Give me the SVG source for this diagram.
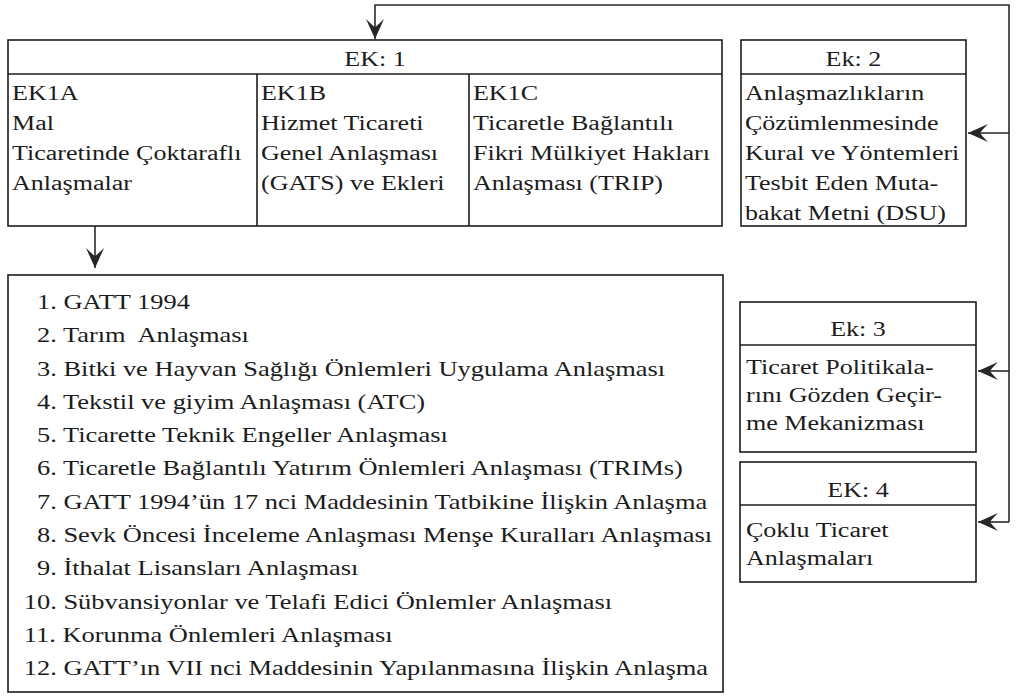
<svg xmlns="http://www.w3.org/2000/svg" width="1016" height="697" viewBox="0 0 1016 697">
<style>
.box{fill:none;stroke:#1c1c1c;stroke-width:1.6}
.ln{stroke:#1c1c1c;stroke-width:1.6;fill:none}
.con{stroke:#2a2a2a;stroke-width:1.6;fill:none}
.t{font-family:"Liberation Serif","Times New Roman",serif;font-size:20.5px;fill:#1c1c1c}
.c{text-anchor:middle}
.pre{white-space:pre}
</style>
<defs>
<marker id="ah" markerUnits="userSpaceOnUse" markerWidth="24" markerHeight="24" viewBox="-22 -11 24 22" refX="0" refY="0" orient="auto">
<path d="M0,0 L-20,-9 Q-13,-2 -12,0 Q-13,2 -20,9 Z" fill="#262626"/>
</marker>
</defs>
<rect width="1016" height="697" fill="#fff"/>
<g id="connectors">
<path class="con" d="M1009,522 V5 H375 V39" marker-end="url(#ah)"/>
<path class="con" d="M1009,133 H968" marker-end="url(#ah)"/>
<path class="con" d="M1009,371 H978" marker-end="url(#ah)"/>
<path class="con" d="M1009,522 H978" marker-end="url(#ah)"/>
<path class="con" d="M95,226 V268" marker-end="url(#ah)"/>
</g>
<g id="ek1">
<rect class="box" x="8" y="40" width="714" height="186"/>
<path class="ln" d="M8,74 H722 M257,74 V226 M469,74 V226"/>
<g transform="scale(1.27 1)">
<text class="t c" x="295.3" y="66">EK: 1</text>
<text class="t" x="9.45" y="100">EK1A</text>
<text class="t" x="9.45" y="130">Mal</text>
<text class="t" x="9.45" y="160">Ticaretinde Çoktaraflı</text>
<text class="t" x="9.45" y="190">Anlaşmalar</text>
<text class="t" x="205.5" y="100">EK1B</text>
<text class="t" x="205.5" y="130">Hizmet Ticareti</text>
<text class="t" x="205.5" y="160">Genel Anlaşması</text>
<text class="t" x="205.5" y="190">(GATS) ve Ekleri</text>
<text class="t" x="372.4" y="100">EK1C</text>
<text class="t" x="372.4" y="130">Ticaretle Bağlantılı</text>
<text class="t" x="372.4" y="160">Fikri Mülkiyet Hakları</text>
<text class="t" x="372.4" y="190">Anlaşması (TRIP)</text>
</g>
</g>
<g id="ek2">
<rect class="box" x="741" y="40" width="225" height="186"/>
<path class="ln" d="M741,74 H966"/>
<g transform="scale(1.27 1)">
<text class="t c" x="672" y="66">Ek: 2</text>
<text class="t" x="586.6" y="100">Anlaşmazlıkların</text>
<text class="t" x="586.6" y="130">Çözümlenmesinde</text>
<text class="t" x="586.6" y="160">Kural ve Yöntemleri</text>
<text class="t" x="586.6" y="190">Tesbit Eden Muta-</text>
<text class="t" x="586.6" y="220">bakat Metni (DSU)</text>
</g>
</g>
<g id="list">
<rect class="box" x="8" y="275" width="715" height="417"/>
<g transform="scale(1.29 1)">
<text class="t" x="28.68" y="309">1. GATT 1994</text>
<text class="t pre" x="28.68" y="342.3">2. Tarım  Anlaşması</text>
<text class="t" x="28.68" y="375.6">3. Bitki ve Hayvan Sağlığı Önlemleri Uygulama Anlaşması</text>
<text class="t" x="28.68" y="408.9">4. Tekstil ve giyim Anlaşması (ATC)</text>
<text class="t" x="28.68" y="442.2">5. Ticarette Teknik Engeller Anlaşması</text>
<text class="t" x="28.68" y="475.5">6. Ticaretle Bağlantılı Yatırım Önlemleri Anlaşması (TRIMs)</text>
<text class="t" x="28.68" y="508.8">7. GATT 1994’ün 17 nci Maddesinin Tatbikine İlişkin Anlaşma</text>
<text class="t" x="28.68" y="542.1">8. Sevk Öncesi İnceleme Anlaşması Menşe Kuralları Anlaşması</text>
<text class="t" x="28.68" y="575.4">9. İthalat Lisansları Anlaşması</text>
<text class="t" x="18.43" y="608.7">10. Sübvansiyonlar ve Telafi Edici Önlemler Anlaşması</text>
<text class="t" x="18.43" y="642">11. Korunma Önlemleri Anlaşması</text>
<text class="t" x="18.43" y="675.3">12. GATT’ın VII nci Maddesinin Yapılanmasına İlişkin Anlaşma</text>
</g>
</g>
<g id="ek3">
<rect class="box" x="740" y="302" width="236" height="150"/>
<path class="ln" d="M740,345 H976"/>
<g transform="scale(1.27 1)">
<text class="t c" x="675.6" y="336">Ek: 3</text>
<text class="t" x="587.4" y="374">Ticaret Politikala-</text>
<text class="t" x="587.4" y="402">rını Gözden Geçir-</text>
<text class="t" x="587.4" y="430">me Mekanizması</text>
</g>
</g>
<g id="ek4">
<rect class="box" x="740" y="462" width="236" height="120"/>
<path class="ln" d="M740,505 H976"/>
<g transform="scale(1.27 1)">
<text class="t c" x="675.6" y="497">EK: 4</text>
<text class="t" x="587.4" y="537">Çoklu Ticaret</text>
<text class="t" x="587.4" y="565">Anlaşmaları</text>
</g>
</g>
</svg>
